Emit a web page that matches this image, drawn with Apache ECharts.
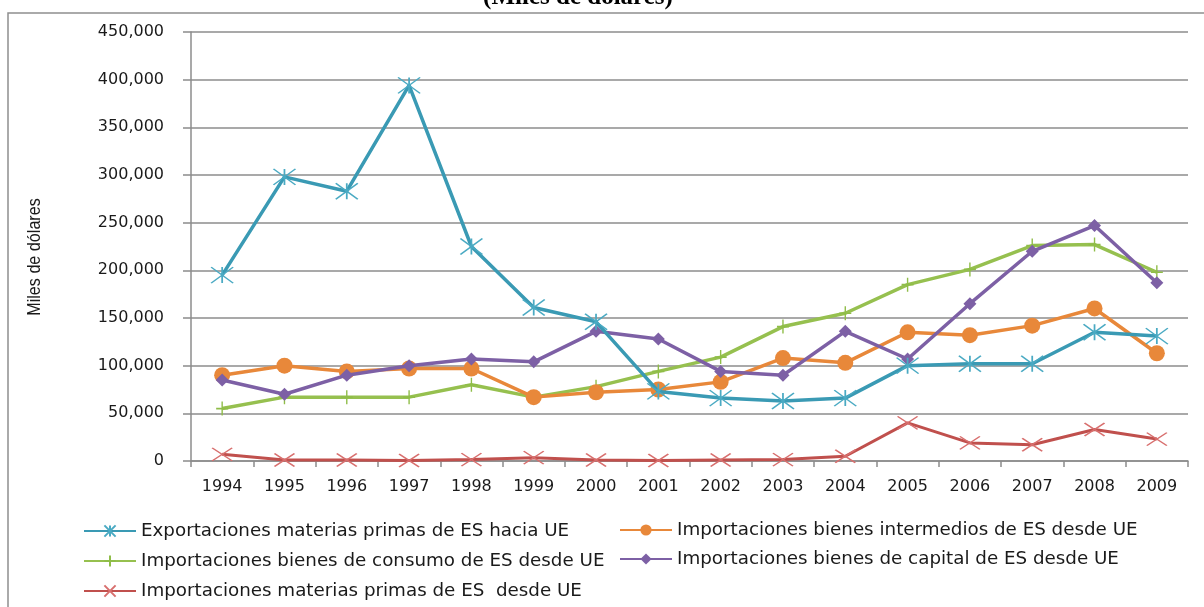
<!DOCTYPE html>
<html>
<head>
<meta charset="utf-8">
<script src="https://cdn.jsdelivr.net/npm/echarts@6/dist/echarts.min.js"></script>
<style>
  html, body { margin: 0; padding: 0; background: #ffffff; }
  #chart { width: 1204px; height: 607px; }
</style>
</head>
<body>
<div id="chart"></div>
<script>
// Años
const years = ['1994','1995','1996','1997','1998','1999','2000','2001','2002','2003','2004','2005','2006','2007','2008','2009'];

// Series en miles de dólares
const exportMateriasPrimas = [195000, 298000, 283000, 394000, 225000, 161000, 146000, 73000, 66000, 63000, 66000, 100000, 102000, 102000, 135000, 131000];
const importIntermedios    = [90000, 100000, 94000, 97000, 97000, 67000, 72000, 75000, 83000, 108000, 103000, 135000, 132000, 142000, 160000, 113000];
const importConsumo        = [55000, 67000, 67000, 67000, 80000, 67000, 78000, 94000, 109000, 141000, 155000, 185000, 201000, 226000, 227000, 198000];
const importCapital        = [85000, 70000, 90000, 100000, 107000, 104000, 136000, 128000, 94000, 90000, 136000, 107000, 165000, 220000, 247000, 187000];
const importMateriasPrimas = [7000, 1000, 1000, 500, 1500, 3500, 1000, 500, 1000, 1500, 5000, 40000, 19000, 17000, 33000, 23000];

const seriesNames = [
  'Exportaciones materias primas de ES hacia UE',
  'Importaciones bienes intermedios de ES desde UE',
  'Importaciones bienes de consumo de ES desde UE',
  'Importaciones bienes de capital de ES desde UE',
  'Importaciones materias primas de ES  desde UE'
];

const yTicks = { min: 0, max: 450000, step: 50000 };

const chart = echarts.init(document.getElementById('chart'), null, { renderer: 'canvas' });

const axisGray = '#8c8c8c';
const sans = 'DejaVu Sans';

function fmt(v) {
  return String(v).replace(/\B(?=(\d{3})+(?!\d))/g, ',');
}

const legendText = { fontFamily: sans, fontSize: 18.3, lineHeight: 18, color: '#1a1a1a' };

const option = {
  animation: false,
  backgroundColor: '#ffffff',
  graphic: [
    {
      type: 'rect',
      shape: { x: 8, y: 13, width: 1400, height: 800 },
      style: { fill: 'none', stroke: '#8f8f8f', lineWidth: 1.5 },
      silent: true
    },
    {
      type: 'text',
      x: 578,
      y: 10,
      style: {
        text: '(Miles de dólares)',
        font: 'bold 25px "Liberation Serif", serif',
        fill: '#000000',
        align: 'center',
        verticalAlign: 'bottom'
      },
      silent: true
    },
    {
      // título del eje vertical, letra estrecha
      type: 'text',
      x: 35,
      y: 257,
      rotation: Math.PI / 2,
      scaleX: 0.85,
      style: {
        text: 'Miles de dólares',
        font: '19px "Liberation Sans", sans-serif',
        fill: '#1a1a1a',
        align: 'center',
        verticalAlign: 'middle'
      },
      silent: true
    }
  ],
  grid: { left: 191, right: 16, top: 32, bottom: 146, containLabel: false },
  legend: [
    {
      data: [seriesNames[0], seriesNames[2], seriesNames[4]],
      orient: 'vertical',
      left: 83,
      top: 522,
      height: 84,
      padding: 0,
      itemWidth: 52,
      itemHeight: 14,
      itemGap: 12,
      textStyle: legendText
    },
    {
      data: [seriesNames[1], seriesNames[3]],
      orient: 'vertical',
      left: 619,
      top: 521,
      height: 60,
      padding: 0,
      itemWidth: 52,
      itemHeight: 14,
      itemGap: 11,
      textStyle: legendText
    }
  ],
  xAxis: {
    type: 'category',
    data: years,
    boundaryGap: true,
    axisLine: { show: true, lineStyle: { color: axisGray, width: 1.5 } },
    axisTick: { show: true, length: 6, lineStyle: { color: axisGray, width: 1.5 } },
    axisLabel: { fontFamily: sans, fontSize: 16, color: '#1a1a1a', margin: 18 },
    splitLine: { show: false }
  },
  yAxis: {
    type: 'value',
    min: yTicks.min,
    max: yTicks.max,
    interval: yTicks.step,
    axisLine: { show: true, lineStyle: { color: axisGray, width: 1.5 } },
    axisTick: { show: true, inside: false, length: 8, lineStyle: { color: axisGray, width: 1.5 } },
    axisLabel: { fontFamily: sans, fontSize: 16, color: '#1a1a1a', margin: 27, formatter: fmt },
    splitLine: { show: true, lineStyle: { color: axisGray, width: 1.5 } }
  },
  series: [
    {
      name: seriesNames[0],
      type: 'line',
      data: exportMateriasPrimas,
      z: 5,
      symbol: 'path://M0,0 L22,16 M22,0 L0,16 M11,0 L11,16',
      symbolSize: [22, 16],
      itemStyle: { color: 'rgba(0,0,0,0)', borderColor: '#4aaac3', borderWidth: 1.5 },
      lineStyle: { color: '#3a9ab4', width: 3.5 }
    },
    {
      name: seriesNames[1],
      type: 'line',
      data: importIntermedios,
      z: 3,
      symbol: 'circle',
      symbolSize: 16,
      itemStyle: { color: '#e8883a', borderWidth: 0 },
      lineStyle: { color: '#e8883a', width: 3.5 }
    },
    {
      name: seriesNames[2],
      type: 'line',
      data: importConsumo,
      z: 2,
      symbol: 'path://M6,0 L6,14 M0,7 L12,7',
      symbolSize: [12, 14],
      itemStyle: { color: 'rgba(0,0,0,0)', borderColor: '#8fbd48', borderWidth: 1.5 },
      lineStyle: { color: '#96c04f', width: 3.5 }
    },
    {
      name: seriesNames[3],
      type: 'line',
      data: importCapital,
      z: 4,
      symbol: 'diamond',
      symbolSize: 13,
      itemStyle: { color: '#7d60a5', borderWidth: 0 },
      lineStyle: { color: '#7d60a5', width: 3.5 }
    },
    {
      name: seriesNames[4],
      type: 'line',
      data: importMateriasPrimas,
      z: 1,
      symbol: 'path://M0,0 L20,13 M20,0 L0,13',
      symbolSize: [20, 13],
      itemStyle: { color: 'rgba(0,0,0,0)', borderColor: '#d86f6e', borderWidth: 1.5 },
      lineStyle: { color: '#c0504d', width: 3 }
    }
  ]
};

chart.setOption(option);
</script>
</body>
</html>
